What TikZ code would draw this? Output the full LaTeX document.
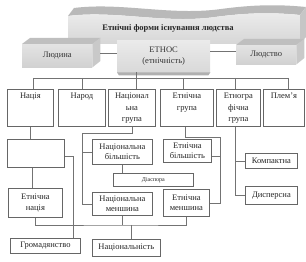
\documentclass[tikz,border=0pt]{standalone}
\usepackage{fontspec}
\setmainfont{Liberation Serif}
\begin{document}
\begin{tikzpicture}[x=1pt,y=-1pt,
  bx/.style={draw=black!60, line width=0.8pt, fill=white, inner sep=0pt, anchor=north west, font=\fontsize{8.5}{10.5}\selectfont, align=center, text=black!85},
  tx/.style={inner sep=0pt, anchor=north, font=\fontsize{8.5}{11.5}\selectfont, align=center, text=black!85},
  ln/.style={draw=black!55, line width=0.6pt},
  face/.style={inner sep=0pt, anchor=north west, font=\fontsize{8.5}{10.5}\selectfont, align=center, text=black!80}]
\useasboundingbox (0,0) rectangle (306,262);

% ---------- banner ----------
\fill[gray!55] (68,16) .. controls (115,10) and (165,24) .. (215,17) .. controls (245,13) and (270,12) .. (300,15) -- (306,7) .. controls (276,4) and (251,5) .. (221,9) .. controls (171,16) and (121,2) .. (74,8) -- cycle;
\shade[top color=gray!14, bottom color=gray!32] (68,16) .. controls (115,10) and (165,24) .. (215,17) .. controls (245,13) and (270,12) .. (300,15) -- (300,44) -- (68,44) -- cycle;
\fill[gray!45] (300,15) -- (306,7) -- (306,37) -- (300,44) -- cycle;
\node[font=\bfseries\fontsize{8.5}{10}\selectfont, text=black!85, inner sep=0pt] (title) at (168,28) {Етнічні форми існування людства};

% ---------- Людина ----------
\node[face, minimum width=70pt, minimum height=23pt, top color=gray!22, bottom color=gray!36] (lyud) at (22,44) {Людина};
\fill[gray!50] (lyud.north west) -- ++(8,-6) -- ([shift={(8,-6)}]lyud.north east) -- (lyud.north east) -- cycle;
\fill[gray!42] (lyud.north east) -- ++(8,-6) -- ++(0,23) -- (lyud.south east) -- cycle;

% ---------- Людство ----------
\node[face, minimum width=60pt, minimum height=19pt, top color=gray!22, bottom color=gray!36] (lyudstvo) at (236,45) {Людство};
\fill[gray!50] (lyudstvo.north west) -- ++(8,-6) -- ([shift={(8,-6)}]lyudstvo.north east) -- (lyudstvo.north east) -- cycle;
\fill[gray!42] (lyudstvo.north east) -- ++(8,-6) -- ++(0,19) -- (lyudstvo.south east) -- cycle;

% ---------- ЕТНОС ----------
\node[face, minimum width=93pt, minimum height=32pt, top color=gray!16, bottom color=gray!30] (ethos) at (117,40) {ЕТНОС\\(етнічність)};
\fill[gray!62] (ethos.south west) -- (ethos.south east) -- ++(-2,3) -- ([xshift=2pt,yshift=-3pt]ethos.south west) -- cycle;

\coordinate (lyudR) at ([xshift=8pt,yshift=2pt]lyud.east);
\draw[ln] (lyudR) -- (lyudR -| ethos.west);
\coordinate (ethR) at ([yshift=5pt]ethos.east);
\draw[ln] (ethR) -- (ethR -| lyudstvo.west);

% ---------- row 1 ----------
\node[bx, minimum width=46pt, minimum height=37pt] (nacia) at (7,89) {};
\node[bx, minimum width=47pt, minimum height=37pt] (narod) at (58,89) {};
\node[bx, minimum width=47pt, minimum height=37pt] (natsgr) at (108,89) {};
\node[bx, minimum width=53pt, minimum height=37pt] (etngr) at (160,89) {};
\node[bx, minimum width=44pt, minimum height=37pt] (etnograf) at (216,89) {};
\node[bx, minimum width=41pt, minimum height=37pt] (plemia) at (263,89) {};
\node[tx] (naciaT) at ([yshift=-4pt]nacia.north) {Нація};
\node[tx] (narodT) at ([yshift=-4pt]narod.north) {Народ};
\node[tx] (natsgrT) at ([yshift=-4pt]natsgr.north) {Націонал\\ьна\\група};
\node[tx] (etngrT) at ([yshift=-4pt]etngr.north) {Етнічна\\група};
\node[tx] (etnografT) at ([yshift=-4pt]etnograf.north) {Етногра\\фічна\\група};
\node[tx] (plemiaT) at ([yshift=-4pt]plemia.north) {Плем’я};

% bus
\coordinate (b1) at (33,78);
\coordinate (b2) at (82,78);
\coordinate (b3) at (136,78);
\coordinate (b4) at (183,78);
\coordinate (b5) at (235,78);
\coordinate (b6) at (288,78);
\draw[ln] (b1) -- (b6);
\draw[ln] (b3 |- ethos.south) -- (b3 |- natsgr.north);
\draw[ln] (b1) -- (b1 |- nacia.north);
\draw[ln] (b2) -- (b2 |- narod.north);
\draw[ln] (b4) -- (b4 |- etngr.north);
\draw[ln] (b5) -- (b5 |- etnograf.north);
\draw[ln] (b6) -- (b6 |- plemia.north);

% ---------- lower boxes ----------
\node[bx, minimum width=57pt, minimum height=28pt] (blank) at (7,139) {};
\node[bx, minimum width=54pt, minimum height=29pt] (etnatsia) at (8,188) {Етнічна\\нація};
\node[bx, minimum width=70pt, minimum height=15pt] (hromad) at (10,238) {Громадянство};
\node[bx, minimum width=60pt, minimum height=25pt] (natsbil) at (92,139) {Національна\\більшість};
\node[bx, minimum width=80pt, minimum height=13pt, font=\fontsize{6}{7}\selectfont] (diasp) at (113,173) {Діаспора};
\node[bx, minimum width=60pt, minimum height=23pt] (natsmensh) at (92,192) {Національна\\меншина};
\node[bx, minimum width=68pt, minimum height=17pt] (natsion) at (92,239) {Національність};
\node[bx, minimum width=48pt, minimum height=23pt] (etbil) at (163,139) {Етнічна\\більшість};
\node[bx, minimum width=46pt, minimum height=27pt] (etmensh) at (163,189) {Етнічна\\меншина};
\node[bx, minimum width=52pt, minimum height=15pt] (kompakt) at (245,153) {Компактна};
\node[bx, minimum width=52pt, minimum height=18pt] (dyspers) at (245,186) {Дисперсна};

% ---------- lower connectors ----------
\draw[ln] (nacia.south) -- (nacia.south |- blank.north);
\coordinate (n2) at ([xshift=-3pt]etnatsia.north);
\draw[ln] (n2 |- blank.south) -- (n2);
\coordinate (bl) at ([yshift=-3pt]blank.east);
\coordinate (hr) at ([xshift=28pt]hromad.north);
\draw[ln] (bl) -| (hr);

\coordinate (low) at (131,225);
\draw[ln] (etnatsia.south) |- (low) -| (etmensh.south);
\draw[ln] (natsmensh.south) -- (natsmensh.south |- low);
\draw[ln] (low) -- (low |- natsion.north);

\coordinate (v1) at (82,133);
\draw[ln] (natsgr.south) |- (v1) |- (natsmensh.west);
\draw[ln] (v1 |- natsbil.west) -- (natsbil.west);
\draw[ln] (natsbil.south) -- (natsbil.south |- diasp.north);

\coordinate (v2) at (220,137);
\coordinate (eg) at ([xshift=-1.5pt]etngr.south);
\draw[ln] (eg) |- (v2) |- (etmensh.east);
\coordinate (ebr) at ([yshift=-5pt]etbil.east);
\draw[ln] (v2 |- ebr) -- (ebr);

\draw[ln] (b5 |- etnograf.south) |- (dyspers.west);
\draw[ln] (b5 |- kompakt.west) -- (kompakt.west);
\end{tikzpicture}
\end{document}
